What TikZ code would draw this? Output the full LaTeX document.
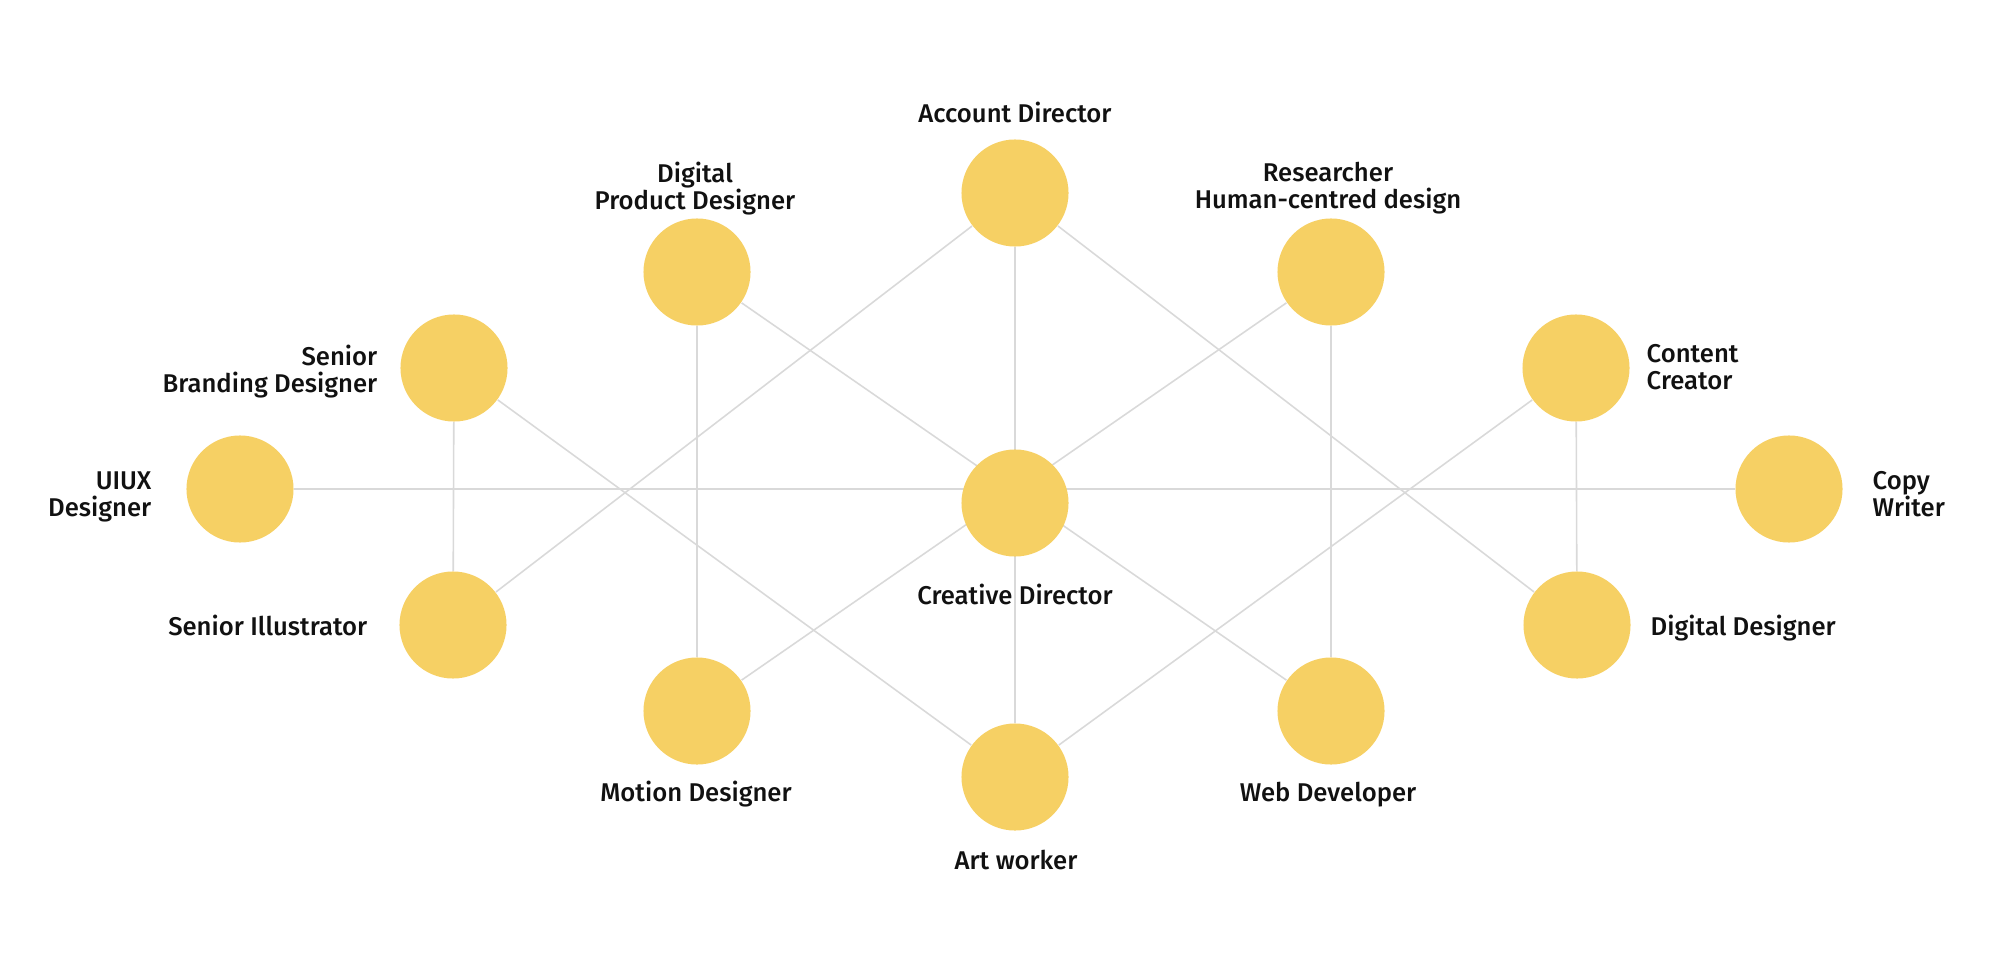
\documentclass[tikz,border=0pt]{standalone}
\usepackage{fontspec}
\setmainfont{Fira Sans}[UprightFont=* Medium]
\usetikzlibrary{backgrounds}
\definecolor{roleyellow}{HTML}{F6D064}
\definecolor{linkgray}{HTML}{D9D9D9}
\definecolor{labelink}{HTML}{111111}
\tikzset{
  role/.style={circle,fill=roleyellow,minimum size=1.07cm,inner sep=0pt},
  link/.style={draw=linkgray,line width=0.45pt},
  lbl/.style={font=\fontsize{7.3pt}{7.7pt}\selectfont,text=labelink,inner sep=0pt}
}
\begin{document}
\begin{tikzpicture}[x=0.01cm,y=-0.01cm]
\useasboundingbox (0,0) rectangle (2000,976);
% circles
\node[role] (ad) at (1015,193) {};
\node[role] (dpd) at (697,272) {};
\node[role] (res) at (1331,272) {};
\node[role] (sb) at (454,368) {};
\node[role] (cc) at (1576,368) {};
\node[role] (ui) at (240,489) {};
\node[role] (cd) at (1015,503) {};
\node[role] (cw) at (1789,489) {};
\node[role] (si) at (453,625) {};
\node[role] (dd) at (1577,625) {};
\node[role] (md) at (697,711) {};
\node[role] (wd) at (1331,711) {};
\node[role] (aw) at (1015,777) {};
% labels
\node[lbl,anchor=base] (adl) at (1015,123) {Account Director};
\node[lbl,anchor=north,align=center] (dpdl) at (695,161) {Digital\\Product Designer};
\node[lbl,anchor=north,align=center] (resl) at (1328,161) {Researcher\\Human-centred design};
\node[lbl,anchor=north east,align=right] (sbl) at (378,344) {Senior\\Branding Designer};
\node[lbl,anchor=north west,align=left] (ccl) at (1646,344) {Content\\Creator};
\node[lbl,anchor=north east,align=right] (uil) at (152,471) {UIUX\\Designer};
\node[lbl,anchor=north west,align=left] (cwl) at (1872,471) {Copy\\Writer};
\node[lbl,anchor=base] (cdl) at (1015,604) {Creative Director};
\node[lbl,anchor=base east] (sil) at (368,635) {Senior Illustrator};
\node[lbl,anchor=base west] (ddl) at (1650,635) {Digital Designer};
\node[lbl,anchor=base] (mdl) at (696,801) {Motion Designer};
\node[lbl,anchor=base] (wdl) at (1328,801) {Web Developer};
\node[lbl,anchor=base] (awl) at (1016,869) {Art worker};
% links
\begin{scope}[on background layer]
\draw[link] (ui) -- (cw);
\draw[link] (ad) -- (aw);
\draw[link] (sb) -- (si);
\draw[link] (dpd) -- (md);
\draw[link] (res) -- (wd);
\draw[link] (cc) -- (dd);
\draw[link] (ad) -- (si);
\draw[link] (ad) -- (dd);
\draw[link] (dpd) -- (wd);
\draw[link] (res) -- (md);
\draw[link] (sb) -- (aw);
\draw[link] (cc) -- (aw);
\end{scope}
\end{tikzpicture}
\end{document}
